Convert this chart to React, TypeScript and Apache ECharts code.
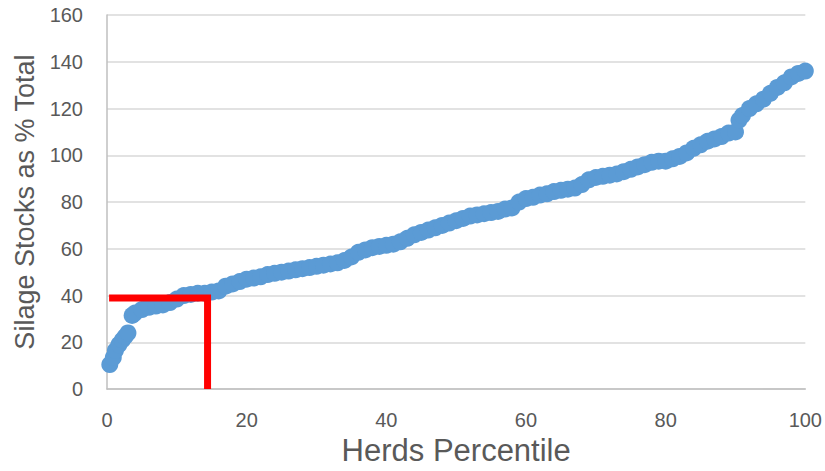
import React, { useEffect, useRef } from "react";
import * as echarts from "echarts";

const percentiles: number[] = [
  0.4, 0.9, 1.2, 1.7, 2.2, 2.6, 3.0, 3.6, 4, 5, 6, 7, 8, 9, 10, 11, 12, 13, 14, 15,
  16, 17, 18, 19, 20, 21, 22, 23, 24, 25, 26, 27, 28, 29, 30, 31, 32, 33, 34, 35,
  36, 37, 38, 39, 40, 41, 42, 43, 44, 45, 46, 47, 48, 49, 50, 51, 52, 53, 54, 55,
  56, 57, 58, 59, 60, 61, 62, 63, 64, 65, 66, 67, 68, 69, 70, 71, 72, 73, 74, 75,
  76, 77, 78, 79, 80, 81, 82, 83, 84, 85, 86, 87, 88, 89, 90, 90.5, 91, 92, 93, 94,
  95, 96, 97, 98, 99, 100,
];

const silageStocks: number[] = [
  10.5, 13.5, 16.5, 19, 21, 22.5, 24, 31.5, 32.5, 34, 35, 35.5, 36, 37, 38.5, 40, 40.5, 41, 41, 41.5,
  42, 44, 45, 46, 47, 47.5, 48, 49, 49.5, 50, 50.5, 51, 51.5, 52, 52.5, 53, 53.5, 54, 55, 56.5,
  58.5, 59.5, 60.5, 61, 61.5, 62, 63, 64.5, 66, 67, 68, 69, 70, 71, 72, 73, 74, 74.5, 75, 75.5,
  76, 77, 77.5, 80, 81.5, 82, 83, 83.5, 84.5, 85, 85.5, 86, 87.5, 89.5, 90.5, 91, 91.5, 92, 93, 94,
  95, 96, 97, 97.5, 97.5, 98.5, 99.5, 101, 103, 104.5, 106, 107, 108, 109.5, 110, 115, 117, 120, 122, 124,
  126.5, 129, 131, 133.5, 135, 136,
];

// Red reference marker: from the y axis across at the cutoff value, then down to zero
const cutoffStart = 0.3;
const cutoffPercentile = 14.4;
const cutoffValue = 39;

const xTicks = { min: 0, max: 100, interval: 20 };
const yTicks = { min: 0, max: 160, interval: 20 };

const FONT = "'Liberation Sans', Arial, sans-serif";

export default function App() {
  const ref = useRef<HTMLDivElement>(null);

  useEffect(() => {
    if (!ref.current) return;
    const chart = echarts.init(ref.current, undefined, { renderer: "svg" });
    const scatterData = percentiles.map((p, i) => [p, silageStocks[i]]);
    const refLine = [
      [cutoffStart, cutoffValue],
      [cutoffPercentile, cutoffValue],
      [cutoffPercentile, 0],
    ];
    chart.setOption({
      animation: false,
      backgroundColor: "#ffffff",
      grid: { left: 107, right: 18, top: 15, bottom: 78, containLabel: false },
      xAxis: {
        type: "value",
        min: xTicks.min,
        max: xTicks.max,
        interval: xTicks.interval,
        name: "Herds Percentile",
        nameLocation: "middle",
        nameGap: 45,
        nameTextStyle: { fontFamily: FONT, fontSize: 31, lineHeight: 31, color: "#595959" },
        axisLine: { show: true, lineStyle: { color: "#BFBFBF", width: 1.5 } },
        axisTick: { show: false },
        splitLine: { show: false },
        axisLabel: { fontFamily: FONT, fontSize: 20, lineHeight: 20, color: "#595959", margin: 21 },
      },
      yAxis: {
        type: "value",
        min: yTicks.min,
        max: yTicks.max,
        interval: yTicks.interval,
        name: "Silage Stocks as % Total",
        nameLocation: "middle",
        nameGap: 69,
        nameTextStyle: { fontFamily: FONT, fontSize: 27, lineHeight: 27, color: "#595959" },
        axisLine: { show: true, lineStyle: { color: "#BFBFBF", width: 1.5 } },
        axisTick: { show: false },
        splitLine: { show: true, lineStyle: { color: "#D9D9D9", width: 1.5 } },
        axisLabel: { fontFamily: FONT, fontSize: 20, color: "#595959", margin: 24 },
      },
      series: [
        {
          type: "scatter",
          data: scatterData,
          symbol: "circle",
          symbolSize: 17,
          itemStyle: { color: "#5B9BD5", opacity: 1 },
          z: 2,
        },
        {
          type: "line",
          data: refLine,
          symbol: "none",
          lineStyle: { color: "#FF0000", width: 7, join: "miter", cap: "butt" },
          z: 3,
        },
      ],
    });
    return () => chart.dispose();
  }, []);

  return (
    <div
      ref={ref}
      style={{ position: "absolute", left: 0, top: 0, width: 825, height: 471 }}
    />
  );
}
